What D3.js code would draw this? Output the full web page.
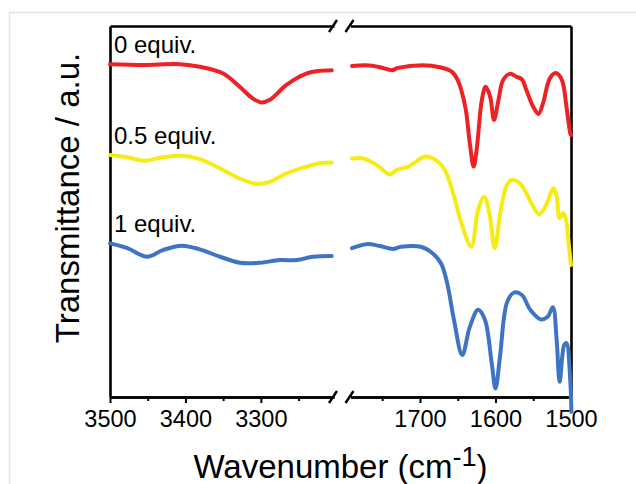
<!DOCTYPE html>
<html>
<head>
<meta charset="utf-8">
<script src="https://cdn.jsdelivr.net/npm/d3@7"></script>
<style>
  body { margin: 0; background: #fff; }
  text { font-family: "Liberation Sans", Arial, sans-serif; fill: #000; }
</style>
</head>
<body>
<div id="chart"></div>
<script>
const majorHigh = [3500, 3400, 3300];
const majorLow = [1700, 1600, 1500];
const minorHigh = [3450, 3350, 3250];
const minorLow = [1750, 1650, 1550];
const names = ['0 equiv.', '0.5 equiv.', '1 equiv.'];
const colors = ['#ee2124', '#f6ec14', '#3f74c2'];

// [wavenumber, transmittance a.u.]
const redHigh = [[3500, 89.7], [3456, 89.5], [3407, 89.7], [3381, 89.0], [3350, 87.2], [3328, 83.6],
  [3311, 80.5], [3299, 79.4], [3288, 80.1], [3266, 84.1], [3239, 87.2], [3222, 87.9], [3206, 88.1]];
const redLow = [[1790, 89.2], [1771, 89.4], [1753, 88.9], [1737, 88.1], [1729, 88.7], [1696, 89.4],
  [1674, 88.9], [1658, 87.7], [1650, 85.4], [1640, 78.2], [1634, 68.4], [1629, 62.1], [1625, 66.6],
  [1618, 80.1], [1613, 83.6], [1607, 80.9], [1602, 74.7], [1596, 80.1], [1590, 85.4], [1581, 87.1],
  [1572, 86.3], [1565, 85.6], [1559, 82.7], [1550, 78.2], [1543, 76.3], [1537, 79.2], [1528, 85.9],
  [1520, 87.3], [1512, 85.4], [1506, 78.2], [1501, 71.1], [1500, 70.6]];

const yellowHigh = [[3500, 65.2], [3477, 64.6], [3454, 63.7], [3430, 64.6], [3404, 65.0], [3381, 64.1],
  [3354, 61.6], [3328, 58.9], [3305, 57.4], [3288, 58.0], [3266, 60.3], [3239, 62.1], [3222, 63.0], [3206, 63.2]];
const yellowLow = [[1790, 64.3], [1775, 64.3], [1757, 62.5], [1740, 60.0], [1731, 61.2], [1715, 62.1],
  [1702, 63.9], [1693, 64.8], [1678, 63.7], [1667, 61.2], [1656, 54.9], [1645, 46.8], [1632, 40.5],
  [1623, 50.4], [1615, 54.0], [1608, 49.5], [1601, 40.1], [1593, 50.4], [1585, 57.1], [1579, 58.5],
  [1568, 57.6], [1559, 54.9], [1550, 51.3], [1542, 49.3], [1534, 51.3], [1523, 56.3], [1519, 54.0],
  [1515, 48.2], [1510, 49.6], [1506, 47.2], [1504, 43.2], [1500, 35.6]];

const blueHigh = [[3500, 41.4], [3477, 40.1], [3451, 37.8], [3430, 39.6], [3405, 40.8], [3381, 39.8],
  [3354, 37.8], [3328, 36.2], [3301, 36.2], [3275, 36.9], [3252, 36.9], [3231, 37.8], [3206, 38.0]];
const blueLow = [[1790, 40.1], [1771, 41.2], [1753, 40.7], [1736, 39.9], [1725, 40.5], [1699, 40.5],
  [1683, 38.7], [1672, 36.0], [1664, 30.7], [1655, 20.8], [1644, 11.3], [1634, 18.9], [1623, 23.5],
  [1614, 20.8], [1605, 9.1], [1600, 2.3], [1594, 10.9], [1585, 25.3], [1576, 28.1], [1565, 27.5],
  [1554, 23.5], [1540, 20.9], [1531, 21.6], [1524, 24.2], [1519, 15.4], [1515, 4.1], [1509, 14.0],
  [1506, 14.5], [1501, 4.6], [1499.5, -4]];

const series = [
  { name: names[0], color: colors[0], high: redHigh, low: redLow },
  { name: names[1], color: colors[1], high: yellowHigh, low: yellowLow },
  { name: names[2], color: colors[2], high: blueHigh, low: blueLow }
];

const width = 636, height = 484;
const plotTop = 26, plotBottom = 397, plotLeft = 110, plotRight = 571;
const breakL = 334, breakR = 350.5;

const xHigh = d3.scaleLinear().domain([3500, 3203]).range([plotLeft, breakL]);
const xLow = d3.scaleLinear().domain([1792, 1500]).range([breakR, plotRight]);
const y = d3.scaleLinear().domain([0, 100]).range([plotBottom, plotTop]);

const svg = d3.select('#chart').append('svg')
  .attr('width', width)
  .attr('height', height);

// faint frame of the original figure
svg.append('path')
  .attr('d', `M9.5,${height}V12.5H${width}`)
  .attr('fill', 'none')
  .attr('stroke', '#e4e4e4')
  .attr('stroke-width', 1.5);

const styleAxis = g => {
  g.select('.domain').attr('stroke-width', 2.6);
  g.selectAll('.tick line').attr('stroke-width', 2);
  g.selectAll('.tick text').style('font-size', '23.5px');
};

// bottom axis, two pieces
[[xHigh, majorHigh, minorHigh], [xLow, majorLow, minorLow]].forEach(([sc, major, minor]) => {
  svg.append('g')
    .attr('transform', `translate(0,${plotBottom})`)
    .call(d3.axisBottom(sc).tickValues(minor).tickSize(4).tickSizeOuter(0).tickFormat(''))
    .call(styleAxis);
  svg.append('g')
    .attr('transform', `translate(0,${plotBottom})`)
    .call(d3.axisBottom(sc).tickValues(major).tickSize(6).tickSizeOuter(0).tickPadding(7).tickFormat(d3.format('d')))
    .call(styleAxis);
  svg.append('g')
    .attr('transform', `translate(0,${plotTop})`)
    .call(d3.axisTop(sc).tickValues([]).tickSizeOuter(0))
    .call(styleAxis);
});

svg.append('g')
  .attr('transform', `translate(${plotLeft},0)`)
  .call(d3.axisLeft(y).tickValues([]).tickSizeOuter(0))
  .call(styleAxis);
svg.append('g')
  .attr('transform', `translate(${plotRight},0)`)
  .call(d3.axisRight(y).tickValues([]).tickSizeOuter(0))
  .call(styleAxis);

// break marks
[plotTop, plotBottom].forEach(yy => {
  [breakL - 1, breakR - 1].forEach(xx => {
    svg.append('line')
      .attr('x1', xx - 4).attr('y1', yy + 6)
      .attr('x2', xx + 4).attr('y2', yy - 6)
      .attr('stroke', '#000')
      .attr('stroke-width', 2.4);
  });
});

// spectra
const lineHigh = d3.line().x(d => xHigh(d[0])).y(d => y(d[1])).curve(d3.curveCatmullRom.alpha(0.5));
const lineLow = d3.line().x(d => xLow(d[0])).y(d => y(d[1])).curve(d3.curveCatmullRom.alpha(0.5));

series.forEach(s => {
  [[s.high, lineHigh], [s.low, lineLow]].forEach(([pts, gen]) => {
    svg.append('path')
      .datum(pts)
      .attr('d', gen)
      .attr('fill', 'none')
      .attr('stroke', s.color)
      .attr('stroke-width', 4)
      .attr('stroke-linejoin', 'round')
      .attr('stroke-linecap', 'round');
  });
  svg.append('text')
    .attr('x', plotLeft + 4)
    .attr('y', y(s.high[0][1]) - 11.5)
    .style('font-size', '24px')
    .text(s.name);
});

// axis titles
const xt = svg.append('text')
  .attr('x', (plotLeft + plotRight) / 2)
  .attr('y', 478)
  .attr('text-anchor', 'middle')
  .style('font-size', '33px');
xt.append('tspan').text('Wavenumber (cm');
xt.append('tspan').attr('dy', -12).style('font-size', '27px').text('-1');
xt.append('tspan').attr('dy', 12).text(')');

svg.append('text')
  .attr('transform', `translate(79,198) rotate(-90)`)
  .attr('text-anchor', 'middle')
  .style('font-size', '33px')
  .text('Transmittance / a.u.');
</script>
</body>
</html>
